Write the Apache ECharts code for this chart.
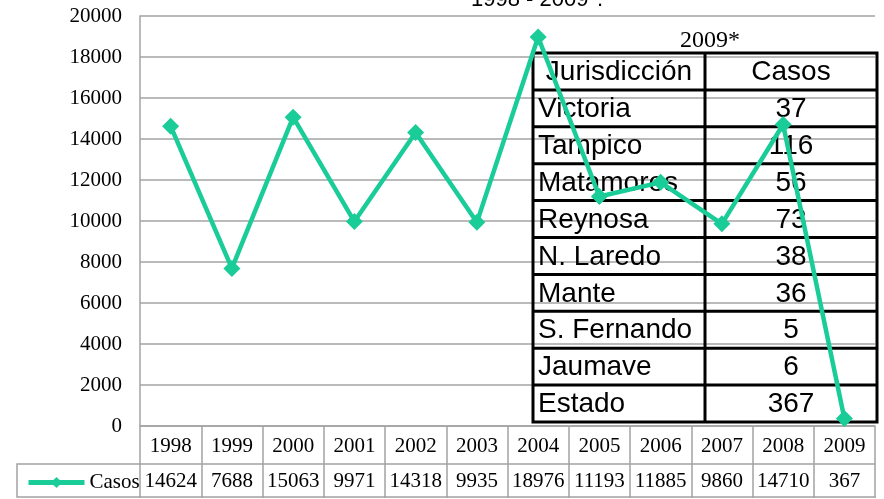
<!DOCTYPE html>
<html>
<head>
<meta charset="utf-8">
<script src="https://cdn.jsdelivr.net/npm/echarts@6/dist/echarts.min.js"></script>
<style>
  html, body { margin: 0; padding: 0; background: #fff; }
  #chart { width: 884px; height: 499px; }
</style>
</head>
<body>
<div id="chart"></div>
<script>
(function () {
    // datos
    const years = ['1998', '1999', '2000', '2001', '2002', '2003', '2004', '2005', '2006', '2007', '2008', '2009'];
    const casos = [14624, 7688, 15063, 9971, 14318, 9935, 18976, 11193, 11885, 9860, 14710, 367];
    const jurisdicciones = ['Victoria', 'Tampico', 'Matamoros', 'Reynosa', 'N. Laredo', 'Mante', 'S. Fernando', 'Jaumave', 'Estado'];
    const casosJur = [37, 116, 56, 73, 38, 36, 5, 6, 367];
    const tableHeader = ['Jurisdicción', 'Casos'];

    const serif = 'Liberation Serif, Times New Roman, serif';
    const sans = 'Liberation Sans, Arial, sans-serif';
    const gray = '#a3a3a3';
    const green = '#19cc98';

    // tabla superpuesta (2009*)
    const tLeft = 533, tMid = 705, tRight = 877, tTop = 53, rowH = 36.9;
    const rows = [tableHeader].concat(jurisdicciones.map(function (j, i) {
        return [j, String(casosJur[i])];
    }));
    const tableEls = [];
    tableEls.push({
        type: 'rect', z: 1,
        shape: { x: tLeft, y: tTop, width: tRight - tLeft, height: rowH * rows.length },
        style: { fill: 'none', stroke: '#000', lineWidth: 3 }
    });
    tableEls.push({
        type: 'line', z: 1,
        shape: { x1: tMid, y1: tTop, x2: tMid, y2: tTop + rowH * rows.length },
        style: { stroke: '#000', lineWidth: 3 }
    });
    rows.forEach(function (r, i) {
        const cy = tTop + rowH * i + rowH / 2 + 1;
        if (i > 0) {
            tableEls.push({
                type: 'line', z: 1,
                shape: { x1: tLeft, y1: tTop + rowH * i, x2: tRight, y2: tTop + rowH * i },
                style: { stroke: '#000', lineWidth: 3 }
            });
        }
        tableEls.push({
            type: 'text', z: 1,
            style: {
                x: i === 0 ? (tLeft + tMid) / 2 : tLeft + 5, y: cy, text: r[0],
                font: '28px ' + sans, fill: '#000',
                textAlign: i === 0 ? 'center' : 'left', textVerticalAlign: 'middle'
            }
        });
        tableEls.push({
            type: 'text', z: 1,
            style: {
                x: (tMid + tRight) / 2, y: cy, text: r[1],
                font: '28px ' + sans, fill: '#000',
                textAlign: 'center', textVerticalAlign: 'middle'
            }
        });
    });

    const option = {
        animation: false,
        backgroundColor: '#fff',
        grid: { left: 140, right: 9, top: 16, bottom: 73 },
        legend: {
            left: 21, top: 467,
            itemWidth: 56, itemHeight: 14, itemGap: 5,
            lineStyle: { width: 5 },
            textStyle: { fontFamily: serif, fontSize: 21, color: '#000' },
            data: ['Casos']
        },
        xAxis: [
            {
                type: 'category', data: years, position: 'bottom',
                axisLine: { lineStyle: { color: gray, width: 1.5 } },
                axisTick: { show: true, interval: 0, length: 38, lineStyle: { color: gray, width: 1.5 } },
                axisLabel: { interval: 0, margin: 10, fontFamily: serif, fontSize: 21, color: '#000' }
            },
            {
                type: 'category', data: years, position: 'bottom', offset: 38,
                axisLine: { lineStyle: { color: gray, width: 1.5 } },
                axisTick: { show: true, interval: 0, length: 34, lineStyle: { color: gray, width: 1.5 } },
                axisLabel: {
                    interval: 0, margin: 7, fontFamily: serif, fontSize: 21, color: '#000',
                    formatter: function (v, idx) { return String(casos[idx]); }
                }
            },
            {
                type: 'category', data: years, position: 'bottom', offset: 71,
                axisLine: { lineStyle: { color: gray, width: 1.5 } },
                axisTick: { show: false },
                axisLabel: { show: false }
            }
        ],
        yAxis: {
            type: 'value', min: 0, max: 20000, interval: 2000,
            axisLine: { show: true, lineStyle: { color: gray, width: 1.5 } },
            axisTick: { show: false },
            axisLabel: {
                margin: 18, fontFamily: serif, fontSize: 21, color: '#000',
                formatter: function (v) { return String(v); }
            },
            splitLine: { lineStyle: { color: gray, width: 1.5 } }
        },
        series: [
            {
                name: 'Casos', type: 'line', z: 5,
                data: casos,
                symbol: 'diamond', symbolSize: 17,
                lineStyle: { color: green, width: 4.5 },
                itemStyle: { color: green }
            }
        ],
        graphic: [
            {
                type: 'text', z: 1,
                style: {
                    x: 537, y: 11, text: '1998 - 2009*.',
                    font: '22px ' + sans, fill: '#000',
                    textAlign: 'center', textVerticalAlign: 'bottom'
                }
            },
            {
                type: 'text', z: 1,
                style: {
                    x: 710, y: 53, text: '2009*',
                    font: '24px ' + serif, fill: '#000',
                    textAlign: 'center', textVerticalAlign: 'bottom'
                }
            },
            {
                type: 'polyline', z: 1,
                shape: { points: [[140, 464], [17, 464], [17, 497], [140, 497]] },
                style: { stroke: gray, lineWidth: 1.5, fill: 'none' }
            }
        ].concat(tableEls)
    };

    const myChart = echarts.init(document.getElementById('chart'));
    myChart.setOption(option);
}());
</script>
</body>
</html>
